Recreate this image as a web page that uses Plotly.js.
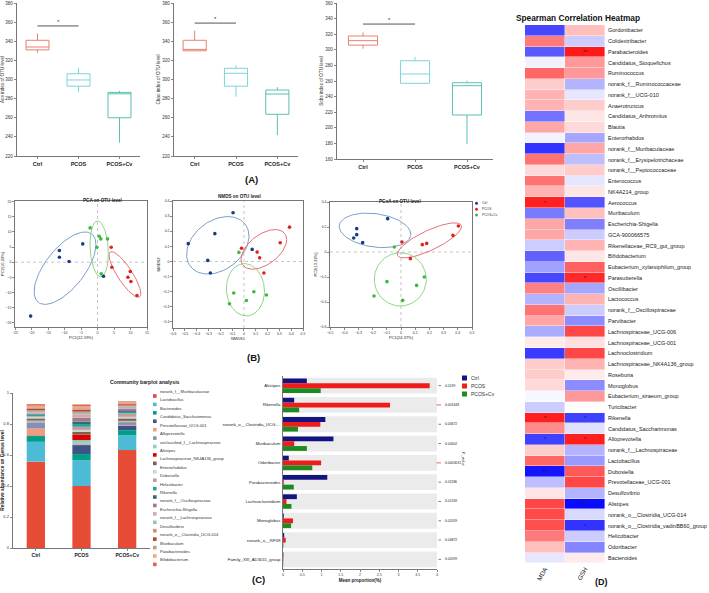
<!DOCTYPE html>
<html>
<head>
<meta charset="utf-8">
<script src="https://cdn.plot.ly/plotly-3.0.1.min.js"></script>
<style>
  html, body { margin: 0; padding: 0; background: #fff; }
  #fig { width: 709px; height: 593px; }
</style>
</head>
<body>
<div id="fig"></div>
<script>
// ---------------- data ----------------
const groups = ['Ctrl', 'PCOS', 'PCOS+Cv'];

// (A) alpha diversity, per group: [lower whisker, q1, median, q3, upper whisker]
const aceStats  = [[328, 331, 334, 341, 348], [287, 293, 299.5, 306, 312], [234, 260, 285, 286.5, 288]];
const chaoStats = [[330, 330, 331.5, 341, 351], [282, 293, 306.5, 311.7, 315], [242, 263.6, 284.8, 289, 292]];
const sobsStats = [[301.4, 306, 311.7, 317.7, 322.4], [257, 257, 269, 286, 291], [179, 216.4, 254, 257.8, 260.4]];
const sigBarLevel = [356, 359, 333];   // Ctrl vs PCOS bracket height
const sigBarMark = ['*', '*', '*'];

// (B) ordination scores
const pcaCtrlX = [-4.46, -11.55, -11.55, -8.61, 1.82, -20.26];
const pcaCtrlY = [6.04, 3.85, 1.65, 0.22, -4.62, -17.8];
const pcaPcosX = [4.15, 4.36, 9.93, 9.22, 10.13, 11.96];
const pcaPcosY = [4.95, -1.65, -3.08, -4.95, -6.37, -10.99];
const pcaCvX   = [-2.23, 0.51, 1.01, -0.2, 3.04, 1.11];
const pcaCvY   = [11.32, 8.57, 7.69, 4.95, 7.69, -3.85];

const nmdsCtrlX = [-0.092, -0.246, -0.471, -0.306, -0.284, 0.070];
const nmdsCtrlY = [0.322, 0.184, 0.118, 0.007, -0.076, 0.080];
const nmdsPcosX = [0.386, 0.307, -0.020, 0.112, 0.133, 0.169];
const nmdsPcosY = [0.227, 0.124, 0.087, 0.062, 0.024, -0.076];
const nmdsCvX   = [-0.042, -0.086, -0.122, 0.021, 0.084, 0.191];
const nmdsCvY   = [0.060, -0.209, -0.280, -0.258, -0.200, -0.222];

const pcoaCtrlX = [-0.094, -0.312, -0.312, -0.333, -0.270];
const pcoaCtrlY = [0.267, 0.187, 0.139, 0.112, 0.075];
const pcoaPcosX = [0.404, 0.366, 0.007, 0.150, 0.181, 0.066];
const pcoaPcosY = [0.208, 0.133, 0.080, 0.059, 0.069, -0.053];
const pcoaCvX   = [-0.047, 0.164, -0.099, 0.110, -0.190, 0.012];
const pcoaCvY   = [0.040, -0.200, -0.237, -0.267, -0.352, -0.387];

// group ellipses: [centre x, centre y, spread x, spread y, correlation]
const pcaEllipses  = [[-9.83, -1.98, 9.37, 11.95, 0.648], [8.31, -4.07, 4.82, 7.54, -0.839], [0.51, 4.40, 2.78, 9.22, -0.163]];
const nmdsEllipses = [[-0.221, 0.107, 0.264, 0.190, 0.317], [0.169, 0.080, 0.193, 0.131, 0.496], [0.013, -0.187, 0.161, 0.173, -0.052]];
const pcoaEllipses = [[-0.183, 0.173, 0.252, 0.138, -0.228], [0.200, 0.093, 0.226, 0.140, 0.786], [-0.005, -0.219, 0.183, 0.213, 0]];

// (C) genus composition (relative abundance)
const genusTaxa = ['norank_f__Muribaculaceae', 'Lactobacillus', 'Bacteroides', 'Candidatus_Saccharimonas',
  'Prevotellaceae_UCG-001', 'Alloprevotella', 'unclassified_f__Lachnospiraceae', 'Alistipes',
  'Lachnospiraceae_NK4A136_group', 'Enterorhabdus', 'Dubosiella', 'Helicobacter', 'Rikenella',
  'norank_f__Oscillospiraceae', 'Escherichia-Shigella', 'norank_f__Lachnospiraceae', 'Desulfovibrio',
  'norank_o__Clostridia_UCG-014', 'Muribaculum', 'Parabacteroides', 'Bifidobacterium'];
const genusCtrl = [0.557, 0.128, 0.037, 0.004, 0.045, 0.040, 0.012, 0.003, 0.010, 0.010, 0.004,
  0.008, 0.004, 0.006, 0.008, 0.008, 0.006, 0.010, 0.008, 0.010, 0.010];
const genusPcos = [0.400, 0.167, 0.039, 0.058, 0.005, 0.005, 0.022, 0.036, 0.018, 0.012, 0.020,
  0.018, 0.015, 0.025, 0.020, 0.012, 0.008, 0.012, 0.010, 0.012, 0.012];
const genusCv = [0.632, 0.096, 0.032, 0.030, 0.004, 0.018, 0.008, 0.004, 0.012, 0.010, 0.022,
  0.010, 0.006, 0.014, 0.012, 0.006, 0.004, 0.008, 0.006, 0.006, 0.006];
const genusColors = ['#e64b35', '#4dbbd5', '#00a087', '#3c5488', '#f39b7f', '#8491b4', '#91d1c2',
  '#dc0000', '#7e6148', '#c9d6d6', '#c79b9b', '#26a69a', '#2f6b7a', '#9e7b8f', '#d8a7ad',
  '#a2bcbc', '#d68c6c', '#b5462b', '#b8a08f', '#f4a582', '#e0664a'];

// (C) differential genera, mean proportion (%)
const diffTaxa = ['Alistipes', 'Rikenella', 'norank_o__Clostridia_UCG-...', 'Muribaculum', 'Odoribacter',
  'Parabacteroides', 'Lachnoclostridium', 'Monoglobus', 'norank_o__RF39', 'Family_XIII_AD3011_group'];
const diffCtrl = [0.62, 0.29, 1.10, 1.31, 0.15, 1.15, 0.36, 0.02, 0.03, 0.01];
const diffPcos = [3.81, 2.78, 0.97, 0.29, 0.99, 0.02, 0.09, 0.26, 0.07, 0.01];
const diffCv   = [0.98, 0.42, 0.39, 0.62, 0.76, 0.28, 0.22, 0.21, 0.01, 0.005];
const diffP    = ['0.0139', '0.001648', '0.04672', '0.04402', '0.0003031', '0.01186', '0.01269', '0.02059', '0.04872', '0.02099'];

// (D) Spearman correlation with MDA / GSH
const corrTaxa = ['Gordonibacter', 'Colidextribacter', 'Parabacteroides', 'Candidatus_Stoquefichus',
  'Ruminococcus', 'norank_f__Ruminococcaceae', 'norank_f__UCG-010', 'Anaerotruncus',
  'Candidatus_Arthromitus', 'Blautia', 'Enterorhabdus', 'norank_f__Muribaculaceae',
  'norank_f__Erysipelotrichaceae', 'norank_f__Peptococcaceae', 'Enterococcus', 'NK4A214_group',
  'Aerococcus', 'Muribaculum', 'Escherichia-Shigella', 'GCA-900066575', 'Rikenellaceae_RC9_gut_group',
  'Bifidobacterium', 'Eubacterium_xylanophilum_group', 'Parasutterella', 'Oscillibacter', 'Lactococcus',
  'norank_f__Oscillospiraceae', 'Parvibacter', 'Lachnospiraceae_UCG-006', 'Lachnospiraceae_UCG-001',
  'Lachnoclostridium', 'Lachnospiraceae_NK4A136_group', 'Roseburia', 'Monoglobus',
  'Eubacterium_siraeum_group', 'Turicibacter', 'Rikenella', 'Candidatus_Saccharimonas', 'Alloprevotella',
  'norank_f__Lachnospiraceae', 'Lactobacillus', 'Dubosiella', 'Prevotellaceae_UCG-001', 'Desulfovibrio',
  'Alistipes', 'norank_o__Clostridia_UCG-014', 'norank_o__Clostridia_vadinBB60_group', 'Helicobacter',
  'Odoribacter', 'Bacteroides'];
const corrMDA = [-0.72, 0.52, -0.65, -0.05, 0.60, 0.20, 0.30, 0.30, -0.55, 0.35,
  -0.05, -0.80, 0.55, 0.15, 0.55, 0.30, 0.87, -0.52, 0.35, 0.35,
  -0.20, -0.62, -0.37, -0.72, 0.50, -0.30, 0.55, 0.35, -0.33, 0.08,
  -0.77, 0.20, 0.20, 0.15, -0.03, -0.20, 0.88, 0.45, -0.75, 0.20,
  0.60, -0.92, -0.25, 0.10, 0.72, 0.71, 0.69, 0.52, 0.25, -0.10];
const corrGSH = [0.25, -0.20, 0.90, 0.40, 0.40, -0.30, -0.10, 0.20, 0.10, 0.15,
  -0.35, 0.35, -0.25, 0.20, -0.10, 0.10, -0.67, 0.25, -0.50, -0.20,
  0.30, 0.10, 0.62, 0.84, -0.35, 0.30, -0.20, -0.45, 0.72, 0.12,
  0.72, 0.30, 0.08, -0.45, 0.40, 0.00, -0.75, -0.12, 0.88, -0.30,
  -0.40, 0.65, 0.72, -0.30, -0.96, -0.15, -0.80, -0.20, -0.48, 0.08];
const sigMDA = ['', '', '', '', '', '', '', '', '', '', '', '', '', '', '', '', '*', '', '', '',
  '', '', '', '', '', '', '', '', '', '', '', '', '', '', '', '', '*', '', '*', '',
  '', '**', '', '', '', '', '', '', '', ''];
const sigGSH = ['', '', '**', '', '', '', '', '', '', '', '', '', '', '', '', '', '', '', '', '',
  '', '', '', '*', '', '', '', '', '', '', '', '', '', '', '', '', '*', '', '*', '',
  '', '', '', '', '**', '', '*', '', '', ''];

// ---------------- styling ----------------
const W = 709, H = 593;
const FONT = 'Liberation Sans, Arial, sans-serif';
const boxColors = ['#e9806f', '#7fd3dc', '#5bbfb4'];
const pointColors = ['#1d3a8a', '#e3211f', '#3cba3c'];
const ellipseColors = ['#6b94c4', '#e0616a', '#86cf78'];
const diffColors = ['#141480', '#ee1c1c', '#1f8a1f'];

const hdom = (a, b) => [a / W, b / W];
const vdom = (top, bottom) => [1 - bottom / H, 1 - top / H];
const px = x => x / W;
const py = y => 1 - y / H;

function axis(extra) {
  return Object.assign({
    showgrid: false, zeroline: false, showline: true, linecolor: '#555', linewidth: 0.8,
    ticks: 'outside', ticklen: 2.5, tickwidth: 0.7, tickcolor: '#555',
    tickfont: { size: 4.5, color: '#333', family: FONT }, automargin: false
  }, extra);
}

const traces = [];
const shapes = [];
const annotations = [];

// ---- (A) box plots ----
const boxSets = [aceStats, chaoStats, sobsStats];
boxSets.forEach((set, p) => {
  const n = p + 1;
  set.forEach((s, g) => {
    traces.push({
      type: 'box', xaxis: 'x' + n, yaxis: 'y' + n, x: [groups[g]],
      lowerfence: [s[0]], q1: [s[1]], median: [s[2]], q3: [s[3]], upperfence: [s[4]],
      line: { color: boxColors[g], width: 1 }, fillcolor: 'rgba(255,255,255,0)',
      whiskerwidth: 0, width: 0.56, hoverinfo: 'skip'
    });
  });
  shapes.push({ type: 'line', xref: 'x' + n, yref: 'y' + n, x0: 0, x1: 1,
    y0: sigBarLevel[p], y1: sigBarLevel[p], line: { color: '#555', width: 1 } });
  annotations.push({ xref: 'x' + n, yref: 'y' + n, x: 0.5, y: sigBarLevel[p], text: sigBarMark[p],
    showarrow: false, yanchor: 'bottom', yshift: -1, font: { size: 6, color: '#333', family: FONT } });
});

// ---- (B) ordinations ----
function ellipseOutline(e) {
  const [cx, cy, sx, sy, r] = e;
  const q = Math.sqrt(1 - r * r);
  const xs = [], ys = [];
  for (let i = 0; i <= 96; i++) {
    const t = 2 * Math.PI * i / 96;
    xs.push(cx + sx * Math.cos(t));
    ys.push(cy + sy * (r * Math.cos(t) + q * Math.sin(t)));
  }
  return { xs, ys };
}
const ordinations = [
  { n: 4, pts: [[pcaCtrlX, pcaCtrlY], [pcaPcosX, pcaPcosY], [pcaCvX, pcaCvY]], ell: pcaEllipses },
  { n: 5, pts: [[nmdsCtrlX, nmdsCtrlY], [nmdsPcosX, nmdsPcosY], [nmdsCvX, nmdsCvY]], ell: nmdsEllipses },
  { n: 6, pts: [[pcoaCtrlX, pcoaCtrlY], [pcoaPcosX, pcoaPcosY], [pcoaCvX, pcoaCvY]], ell: pcoaEllipses }
];
ordinations.forEach(o => {
  const xa = 'x' + o.n, ya = 'y' + o.n;
  shapes.push({ type: 'line', xref: xa, yref: ya + ' domain', x0: 0, x1: 0, y0: 0, y1: 1,
    line: { color: '#b5b5b5', width: 0.8, dash: 'dot' }, layer: 'below' });
  shapes.push({ type: 'line', xref: xa + ' domain', yref: ya, x0: 0, x1: 1, y0: 0, y1: 0,
    line: { color: '#b5b5b5', width: 0.8, dash: 'dot' }, layer: 'below' });
  o.ell.forEach((e, g) => {
    const c = ellipseOutline(e);
    traces.push({ type: 'scatter', mode: 'lines', xaxis: xa, yaxis: ya, x: c.xs, y: c.ys,
      line: { color: ellipseColors[g], width: 0.9 }, hoverinfo: 'skip' });
  });
  o.pts.forEach((pt, g) => {
    traces.push({ type: 'scatter', mode: 'markers', xaxis: xa, yaxis: ya, x: pt[0], y: pt[1],
      marker: { color: pointColors[g], size: 3.6 }, hoverinfo: 'skip' });
  });
});

// ---- (C) stacked genus composition ----
const running = [0, 0, 0];
genusTaxa.forEach((name, k) => {
  const vals = [genusCtrl[k], genusPcos[k], genusCv[k]];
  traces.push({ type: 'bar', xaxis: 'x7', yaxis: 'y7', x: groups, y: vals, base: running.slice(),
    width: 0.4, marker: { color: genusColors[k], line: { width: 0 } }, hoverinfo: 'skip' });
  vals.forEach((v, g) => { running[g] += v; });
});

// ---- (C) differential genera bars ----
const diffSets = [diffCtrl, diffPcos, diffCv];
const diffOffsets = [-0.37, -0.12, 0.13];
diffTaxa.forEach((t, i) => {
  shapes.push({ type: 'rect', xref: 'x8', yref: 'y8', x0: 0, x1: 4, y0: i - 0.41, y1: i + 0.41,
    fillcolor: '#ebebeb', line: { width: 0 }, layer: 'below' });
  const strong = parseFloat(diffP[i]) < 0.01;
  shapes.push({ type: 'line', xref: 'paper', yref: 'y8', x0: px(strong ? 436.5 : 438.5), x1: px(441),
    y0: i, y1: i, line: { color: strong ? '#e02020' : '#444', width: 0.7 } });
  annotations.push({ xref: 'paper', yref: 'y8', x: px(442.5), y: i, text: diffP[i], showarrow: false,
    xanchor: 'left', font: { size: 3.4, color: '#222', family: FONT } });
});
diffSets.forEach((vals, g) => {
  traces.push({ type: 'bar', orientation: 'h', xaxis: 'x8', yaxis: 'y8', y: diffTaxa, x: vals,
    width: 0.25, offset: diffOffsets[g], marker: { color: diffColors[g], line: { width: 0 } }, hoverinfo: 'skip' });
});

// ---- (D) correlation heatmap ----
traces.push({
  type: 'heatmap', xaxis: 'x9', yaxis: 'y9', x: ['MDA', 'GSH'], y: corrTaxa,
  z: corrTaxa.map((t, i) => [corrMDA[i], corrGSH[i]]),
  zmin: -1, zmax: 1, showscale: false, xgap: 0.4, ygap: 0.4, hoverinfo: 'skip',
  colorscale: [[0, '#0000ff'], [0.5, '#ffffff'], [1, '#ff0000']]
});
corrTaxa.forEach((t, i) => {
  [sigMDA[i], sigGSH[i]].forEach((s, c) => {
    if (s) annotations.push({ xref: 'x9', yref: 'y9', x: c, y: i, text: s, showarrow: false,
      font: { size: 5.5, color: '#222', family: FONT } });
  });
});

// ---- titles, labels, legends ----
function label(x, y, text, size, opts) {
  annotations.push(Object.assign({ xref: 'paper', yref: 'paper', x: px(x), y: py(y), text,
    showarrow: false, font: { size, color: '#222', family: FONT } }, opts || {}));
}
const bold = (size, color) => ({ size, color: color || '#222', family: FONT, weight: 'bold' });
label(251, 172, '(A)', 9.5, { font: bold(9.5, '#111') });
label(253, 357, '(B)', 9.5, { font: bold(9.5, '#111') });
label(258, 587, '(C)', 9.5, { font: bold(9.5, '#111') });
label(610, 589, '(D)', 9, { font: bold(9, '#111') });
label(81, 195.5, 'PCA on OTU level', 4.6, { font: bold(4.6) });
label(240, 192, 'NMDS on OTU level', 4.6, { font: bold(4.6) });
label(400, 196.5, 'PCoA on OTU level', 4.6, { font: bold(4.6) });
label(108, 382, 'Community barplot analysis', 5.2, { font: bold(5.2) });
label(463, 468, 'P_value', 3.8, { textangle: 90 });
label(514, 11, 'Spearman Correlation Heatmap', 8.3, { xanchor: 'left', font: bold(8.3, '#111') });

// legend swatches and names
function legendEntry(x, y, size, color, text, fontSize, round) {
  shapes.push({ type: round ? 'circle' : 'rect', xref: 'paper', yref: 'paper',
    x0: px(x), x1: px(x + size), y0: py(y + size / 2), y1: py(y - size / 2),
    fillcolor: color, line: { width: 0 } });
  annotations.push({ xref: 'paper', yref: 'paper', x: px(x + size + 1.8), y: py(y), text, showarrow: false,
    xanchor: 'left', font: { size: fontSize, color: '#333', family: FONT } });
}
genusTaxa.forEach((t, k) => legendEntry(153, 396 + k * 8.42, 3.6, genusColors[k], t, 4.1, false));
groups.forEach((g, k) => legendEntry(462, 378 + k * 8, 5, diffColors[k], g, 5, false));
groups.forEach((g, k) => legendEntry(475, 203.3 + k * 5.9, 3, pointColors[k], g, 3.3, true));

// ---------------- layout ----------------
const boldTicks = bold(5.5);
const small = { size: 3.5, color: '#333', family: FONT };
const layout = {
  width: W, height: H, margin: { l: 0, r: 0, t: 0, b: 0 },
  paper_bgcolor: '#fff', plot_bgcolor: '#fff', showlegend: false, barmode: 'overlay',
  font: { family: FONT, color: '#222' },
  shapes, annotations,

  xaxis: axis({ domain: hdom(17, 140), anchor: 'y', type: 'category', categoryarray: groups, range: [-0.5, 2.5], tickfont: boldTicks }),
  yaxis: axis({ domain: vdom(3, 156), anchor: 'x', range: [220, 380], dtick: 20,
    title: { text: 'Ace index of OTU level', font: { size: 4.6, family: FONT }, standoff: 1 } }),
  xaxis2: axis({ domain: hdom(174, 298), anchor: 'y2', type: 'category', categoryarray: groups, range: [-0.5, 2.5], tickfont: boldTicks }),
  yaxis2: axis({ domain: vdom(3, 156), anchor: 'x2', range: [220, 380], dtick: 20,
    title: { text: 'Chao index of OTU level', font: { size: 4.6, family: FONT }, standoff: 1 } }),
  xaxis3: axis({ domain: hdom(337, 493), anchor: 'y3', type: 'category', categoryarray: groups, range: [-0.5, 2.5], tickfont: boldTicks }),
  yaxis3: axis({ domain: vdom(3, 159), anchor: 'x3', range: [160, 360], dtick: 20,
    title: { text: 'Sobs index of OTU level', font: { size: 4.6, family: FONT }, standoff: 1 } }),

  xaxis4: axis({ domain: hdom(15, 147), anchor: 'y4', range: [-25, 15], dtick: 5, mirror: true, ticklen: 2, tickfont: small,
    title: { text: 'PC1(12.19%)', font: { size: 4, family: FONT }, standoff: 2 } }),
  yaxis4: axis({ domain: vdom(201, 327), anchor: 'x4', range: [-21.4, 20.2], dtick: 5, mirror: true, ticklen: 2, tickfont: small,
    title: { text: 'PC2(10.22%)', font: { size: 4, family: FONT }, standoff: 2 } }),
  xaxis5: axis({ domain: hdom(173, 303), anchor: 'y5', range: [-0.6, 0.5], dtick: 0.1, mirror: true, ticklen: 2, tickfont: small,
    title: { text: 'NMDS1', font: { size: 4, family: FONT }, standoff: 2 } }),
  yaxis5: axis({ domain: vdom(201, 328), anchor: 'x5', range: [-0.44, 0.4], dtick: 0.1, mirror: true, ticklen: 2, tickfont: small,
    title: { text: 'NMDS2', font: { size: 4, family: FONT }, standoff: 2 } }),
  xaxis6: axis({ domain: hdom(330, 472), anchor: 'y6', range: [-0.5, 0.5], dtick: 0.1, mirror: true, ticklen: 2, tickfont: small,
    title: { text: 'PC1(24.37%)', font: { size: 4, family: FONT }, standoff: 2 } }),
  yaxis6: axis({ domain: vdom(202, 327), anchor: 'x6', range: [-0.6, 0.4], dtick: 0.2, mirror: true, ticklen: 2, tickfont: small,
    title: { text: 'PC2(13.22%)', font: { size: 4, family: FONT }, standoff: 2 } }),

  xaxis7: axis({ domain: hdom(13, 150), anchor: 'y7', type: 'category', categoryarray: groups, range: [-0.5, 2.5],
    tickfont: bold(5) }),
  yaxis7: axis({ domain: vdom(393, 548), anchor: 'x7', range: [0, 1], dtick: 0.2, tickfont: { size: 4, color: '#333', family: FONT },
    title: { text: 'Relative abundance on Genus level', font: bold(4.8), standoff: 2 } }),

  xaxis8: axis({ domain: hdom(283, 437), anchor: 'y8', range: [0, 4], dtick: 0.5, ticklen: 2, tickfont: { size: 3.6, color: '#333', family: FONT },
    title: { text: 'Mean proportion(%)', font: bold(4.5), standoff: 2 } }),
  yaxis8: axis({ domain: vdom(376, 569), anchor: 'x8', type: 'category', categoryarray: diffTaxa, range: [9.5, -0.5],
    tickmode: 'array', tickvals: diffTaxa, ticktext: diffTaxa, ticks: '', ticklabelstandoff: 1,
    tickfont: { size: 4.3, color: '#222', family: FONT } }),

  xaxis9: axis({ domain: hdom(525, 605), anchor: 'y9', type: 'category', showline: false, ticks: '',
    tickangle: -60, tickfont: { size: 6.3, color: '#222', family: FONT } }),
  yaxis9: axis({ domain: vdom(25, 563.3), anchor: 'x9', type: 'category', side: 'right', showline: false, ticks: '',
    range: [49.5, -0.5], tickmode: 'array', tickvals: corrTaxa, ticktext: corrTaxa, ticklabelstandoff: 2,
    tickfont: { size: 5.5, color: '#222', family: FONT } })
};

Plotly.newPlot('fig', traces, layout, { staticPlot: true, displayModeBar: false });
</script>
</body>
</html>
